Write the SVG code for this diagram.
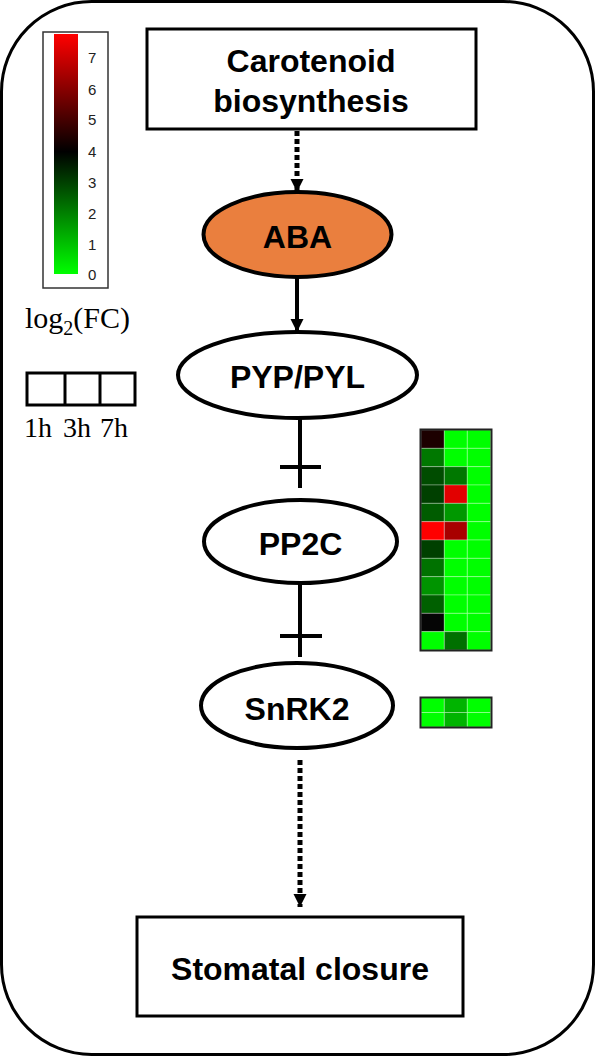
<svg xmlns="http://www.w3.org/2000/svg" width="596" height="1057" viewBox="0 0 596 1057">
<style>
.lbl{font-family:"Liberation Sans",Arial,sans-serif;font-weight:bold;font-size:32px;fill:#000;text-anchor:middle}
.node{fill:#fff;stroke:#000;stroke-width:4}
.box{fill:#fff;stroke:#000;stroke-width:3}
.conn{stroke:#000;stroke-width:4;fill:none}
.dot{stroke:#000;stroke-width:5;fill:none;stroke-dasharray:5 3}
.tick{font-family:"Liberation Sans",Arial,sans-serif;font-size:15px;fill:#222}
.serif{font-family:"Liberation Serif","Times New Roman",serif;fill:#000}
.cell{stroke:#fff;stroke-opacity:0.3;stroke-width:1}
</style>
<defs>
<linearGradient id="cbar" x1="0" y1="0" x2="0" y2="1">
<stop offset="0" stop-color="#ff0000"/>
<stop offset="0.49" stop-color="#000000"/>
<stop offset="1" stop-color="#00ff00"/>
</linearGradient>
<marker id="ah" markerUnits="userSpaceOnUse" markerWidth="14" markerHeight="14" refX="13" refY="6.5" orient="auto">
<path d="M0,0 L13,6.5 L0,13 z" fill="#000"/>
</marker>
</defs>

<rect id="frame" x="1.5" y="1.5" width="592" height="1053" rx="90" ry="90" fill="#fff" stroke="#000" stroke-width="3"/>

<g id="colorbar">
<rect x="43" y="32" width="65" height="256" fill="#fff" stroke="#333" stroke-width="1.5"/>
<rect x="54" y="34" width="24" height="240" fill="url(#cbar)"/>
<text class="tick" x="88" y="63">7</text>
<text class="tick" x="88" y="95">6</text>
<text class="tick" x="88" y="125">5</text>
<text class="tick" x="88" y="157">4</text>
<text class="tick" x="88" y="188">3</text>
<text class="tick" x="88" y="219">2</text>
<text class="tick" x="88" y="250">1</text>
<text class="tick" x="88" y="280">0</text>
<text class="serif" x="25" y="328" font-size="30">log<tspan font-size="20" dy="7">2</tspan><tspan dy="-7">(FC)</tspan></text>
</g>

<g id="timelegend">
<rect x="27" y="373" width="108" height="32" fill="#fff" stroke="#000" stroke-width="3"/>
<line x1="65" y1="373" x2="65" y2="405" stroke="#000" stroke-width="3"/>
<line x1="100" y1="373" x2="100" y2="405" stroke="#000" stroke-width="3"/>
<text class="serif" x="24" y="437" font-size="28">1h</text>
<text class="serif" x="63" y="437" font-size="28">3h</text>
<text class="serif" x="100" y="437" font-size="28">7h</text>
</g>

<g id="carotenoid">
<rect class="box" x="147" y="29" width="329" height="100"/>
<text class="lbl" x="311" y="72" font-size="33">Carotenoid</text>
<text class="lbl" x="311" y="112" font-size="33">biosynthesis</text>
</g>

<g id="aba">
<ellipse cx="297.5" cy="234.5" rx="94" ry="42.5" fill="#ea7f3e" stroke="#000" stroke-width="4"/>
<text class="lbl" x="297.5" y="248">ABA</text>
</g>

<g id="pyp">
<ellipse class="node" cx="297.5" cy="375" rx="119.5" ry="43"/>
<text class="lbl" x="297.5" y="388">PYP/PYL</text>
</g>

<g id="pp2c">
<ellipse class="node" cx="300.5" cy="541.5" rx="96.5" ry="41.5"/>
<text class="lbl" x="300.5" y="555">PP2C</text>
</g>

<g id="snrk2">
<ellipse class="node" cx="297" cy="705.5" rx="96" ry="42.5"/>
<text class="lbl" x="297" y="720">SnRK2</text>
</g>

<g id="stomatal">
<rect class="box" x="137" y="917" width="326" height="99"/>
<text class="lbl" x="300" y="980" font-size="33">Stomatal closure</text>
</g>

<g id="connectors">
<line class="dot" x1="297" y1="131" x2="297" y2="192" marker-end="url(#ah)"/>
<line class="conn" x1="297" y1="277" x2="297" y2="332" marker-end="url(#ah)"/>
<line class="conn" x1="300" y1="418" x2="300" y2="488"/>
<line class="conn" x1="280" y1="467" x2="321" y2="467"/>
<line class="conn" x1="300" y1="583" x2="300" y2="657"/>
<line class="conn" x1="280" y1="636" x2="322" y2="636"/>
<line class="dot" x1="300" y1="760" x2="300" y2="907" marker-end="url(#ah)"/>
</g>

<g id="heatmap">
<g class="cell">
<rect x="421" y="430" width="23.3" height="18.33" fill="#1c0000"/><rect x="444.3" y="430" width="23" height="18.33" fill="#00ff00"/><rect x="467.3" y="430" width="23.4" height="18.33" fill="#00ff00"/>
<rect x="421" y="448.33" width="23.3" height="18.33" fill="#007800"/><rect x="444.3" y="448.33" width="23" height="18.33" fill="#00ff00"/><rect x="467.3" y="448.33" width="23.4" height="18.33" fill="#00ff00"/>
<rect x="421" y="466.67" width="23.3" height="18.33" fill="#004c00"/><rect x="444.3" y="466.67" width="23" height="18.33" fill="#007800"/><rect x="467.3" y="466.67" width="23.4" height="18.33" fill="#00ff00"/>
<rect x="421" y="485" width="23.3" height="18.33" fill="#004000"/><rect x="444.3" y="485" width="23" height="18.33" fill="#e20000"/><rect x="467.3" y="485" width="23.4" height="18.33" fill="#00ff00"/>
<rect x="421" y="503.33" width="23.3" height="18.33" fill="#005c00"/><rect x="444.3" y="503.33" width="23" height="18.33" fill="#009800"/><rect x="467.3" y="503.33" width="23.4" height="18.33" fill="#00ff00"/>
<rect x="421" y="521.67" width="23.3" height="18.33" fill="#ff0000"/><rect x="444.3" y="521.67" width="23" height="18.33" fill="#a80000"/><rect x="467.3" y="521.67" width="23.4" height="18.33" fill="#00ff00"/>
<rect x="421" y="540" width="23.3" height="18.33" fill="#004000"/><rect x="444.3" y="540" width="23" height="18.33" fill="#00ff00"/><rect x="467.3" y="540" width="23.4" height="18.33" fill="#00ff00"/>
<rect x="421" y="558.33" width="23.3" height="18.33" fill="#007200"/><rect x="444.3" y="558.33" width="23" height="18.33" fill="#00ff00"/><rect x="467.3" y="558.33" width="23.4" height="18.33" fill="#00ff00"/>
<rect x="421" y="576.67" width="23.3" height="18.33" fill="#009400"/><rect x="444.3" y="576.67" width="23" height="18.33" fill="#00ff00"/><rect x="467.3" y="576.67" width="23.4" height="18.33" fill="#00ff00"/>
<rect x="421" y="595" width="23.3" height="18.33" fill="#006000"/><rect x="444.3" y="595" width="23" height="18.33" fill="#00ff00"/><rect x="467.3" y="595" width="23.4" height="18.33" fill="#00ff00"/>
<rect x="421" y="613.33" width="23.3" height="18.33" fill="#050505"/><rect x="444.3" y="613.33" width="23" height="18.33" fill="#00ff00"/><rect x="467.3" y="613.33" width="23.4" height="18.33" fill="#00ff00"/>
<rect x="421" y="631.67" width="23.3" height="18.33" fill="#00ff00"/><rect x="444.3" y="631.67" width="23" height="18.33" fill="#007000"/><rect x="467.3" y="631.67" width="23.4" height="18.33" fill="#00ff00"/>
</g>
<rect x="420.5" y="429.5" width="71" height="221" fill="none" stroke="#222" stroke-width="2"/>
</g>

<g id="heatmap-snrk2">
<g class="cell">
<rect x="421" y="698" width="23.3" height="14.5" fill="#00ff00"/><rect x="444.3" y="698" width="23" height="14.5" fill="#00b400"/><rect x="467.3" y="698" width="23.4" height="14.5" fill="#00ff00"/>
<rect x="421" y="712.5" width="23.3" height="14.5" fill="#00ff00"/><rect x="444.3" y="712.5" width="23" height="14.5" fill="#00b400"/><rect x="467.3" y="712.5" width="23.4" height="14.5" fill="#00ff00"/>
</g>
<rect x="420.5" y="697.5" width="71" height="30" fill="none" stroke="#222" stroke-width="2"/>
</g>
</svg>
